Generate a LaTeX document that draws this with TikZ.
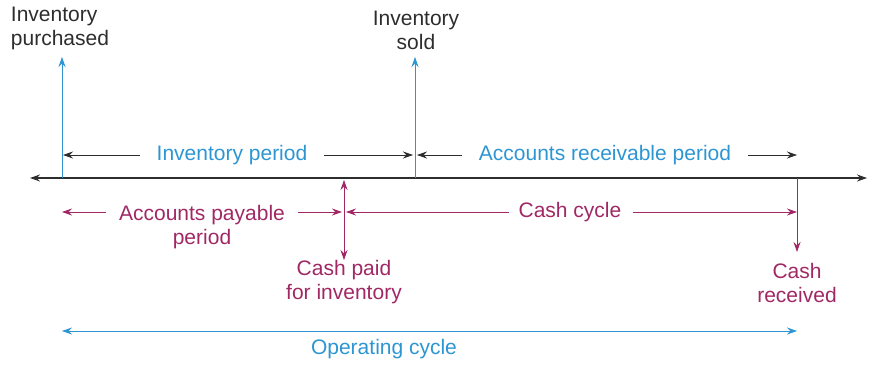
\documentclass[tikz,border=0pt]{standalone}
\usepackage{fontspec}
\setmainfont{Liberation Sans}
\usetikzlibrary{arrows.meta}
\definecolor{opblue}{RGB}{45,150,210}
\definecolor{cashred}{RGB}{160,40,100}
\definecolor{linegray}{RGB}{45,45,45}
\begin{document}
\begin{tikzpicture}[x=0.5pt, y=-0.5pt,
		font=\fontsize{10.5}{12}\selectfont,
		>={Stealth[length=5pt,width=3.5pt]},
		period/.style={->, linegray, thin},
		cashline/.style={->, cashred, thin}]
		\useasboundingbox (0,0) rectangle (871,364);
		
		% Time line
		\coordinate (tl) at (30,178);
		\coordinate (tr) at (867,178);
		\draw[<->, linegray, semithick] (tl) -- (tr);
		
		% Events on the time line
		\coordinate (buy) at (62,178);
		\coordinate (sell) at (415,178);
		\coordinate (pay) at (344,178);
		\coordinate (get) at (797,178);
		
		\node[linegray, align=left, anchor=south] (buytxt) at (60,57) {Inventory\\purchased};
		\node[linegray, align=center, anchor=south] (selltxt) at (416,57) {Inventory\\sold};
		\draw[->, opblue] (buy) -- (buy |- buytxt.south);
		\draw[->, opblue] (sell) -- (sell |- selltxt.south);
		
		% Inventory and receivable periods
		\coordinate (ipl) at (63,155);
		\coordinate (ipr) at (413,155);
		\coordinate (arl) at (417,155);
		\coordinate (arr) at (797,155);
		\node[opblue] (ip) at (232,155) {Inventory period};
		\node[opblue] (ar) at (605,155) {Accounts receivable period};
		\draw[period, shorten <=5pt] (ip.west) -- (ipl);
		\draw[period, shorten <=5pt] (ip.east) -- (ipr);
		\draw[period, shorten <=5pt] (ar.west) -- (arl);
		\draw[period, shorten <=5pt] (ar.east) -- (arr);
		
		% Payable period and cash cycle
		\coordinate (apl) at (62,212);
		\coordinate (apr) at (342,212);
		\coordinate (ccl) at (346,212);
		\coordinate (ccr) at (797,212);
		\node[cashred, align=center, anchor=north] (ap) at (202,198) {Accounts payable\\period};
		\node[cashred] (cc) at (570,212) {Cash cycle};
		\draw[cashline, shorten <=3pt] (ap.west |- apl) -- (apl);
		\draw[cashline, shorten <=3pt] (ap.east |- apr) -- (apr);
		\draw[cashline, shorten <=1.5pt] (cc.west) -- (ccl);
		\draw[cashline, shorten <=2.5pt] (cc.east) -- (ccr);
		
		% Cash paid and cash received
		\coordinate (paytop) at (344,180);
		\coordinate (paybot) at (344,260);
		\coordinate (getbot) at (797,252);
		\draw[<->, cashred] (paytop) -- (paybot);
		\draw[->, cashred] (get) -- (getbot);
		\node[cashred, align=center] (paytxt) at (344,282) {Cash paid\\for inventory};
		\node[cashred, align=center] (gettxt) at (797,283) {Cash\\received};
		
		% Operating cycle
		\coordinate (ocl) at (62,331);
		\coordinate (ocr) at (797,331);
		\draw[<->, opblue] (ocl) -- (ocr);
		\node[opblue] (oc) at (384,349) {Operating cycle};
	\end{tikzpicture}
\end{document}
